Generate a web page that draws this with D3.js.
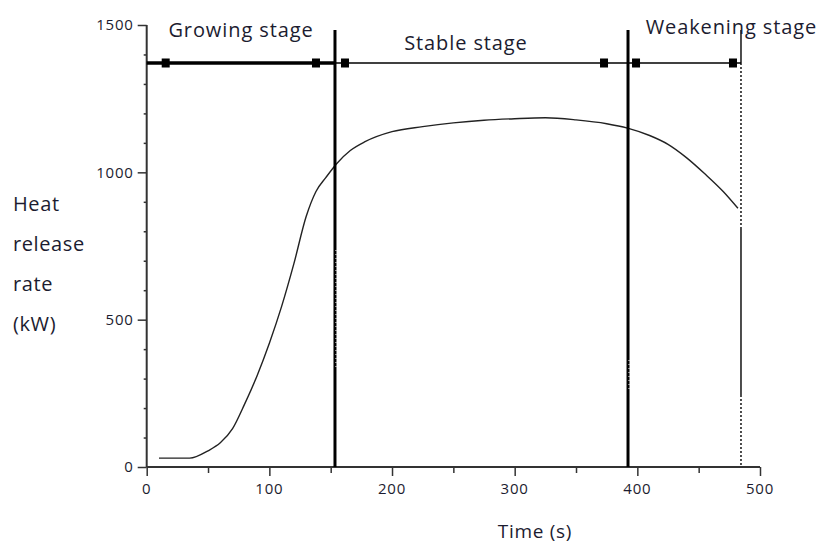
<!DOCTYPE html>
<html>
<head>
<meta charset="utf-8">
<script src="https://cdn.jsdelivr.net/npm/d3@7"></script>
<style>
    body { margin: 0; background: #fff; }
    svg text { font-family: "Open Sans", "Noto Sans", sans-serif; }
</style>
</head>
<body>
<svg id="chart" width="824" height="547"></svg>
<script>
// heat release rate curve
var times = [10, 35, 50, 60, 70, 80, 90, 100, 110, 120, 130, 138, 146, 155, 166, 178, 200, 225, 250, 275, 300, 325, 350, 375, 392, 410, 425, 440, 455, 470, 482];
var hrr = [30, 30, 55, 82, 130, 215, 310, 420, 545, 690, 850, 935, 982, 1030, 1074, 1104, 1138, 1155, 1168, 1177, 1182, 1185, 1178, 1165, 1150, 1125, 1095, 1050, 995, 935, 878];

// stage boundaries (s)
var stageNames = ["Growing stage", "Stable stage", "Weakening stage"];
var stageStart = [0, 153.5, 392.4];
var stageEnd = [153.5, 392.4, 484.5];

var xTicks = [0, 100, 200, 300, 400, 500];
var yTicks = [0, 500, 1000, 1500];
var yLabelLines = ["Heat", "release", "rate", "(kW)"];

var svg = d3.select("#chart");

var x = d3.scaleLinear().domain([0, 500]).range([146.7, 760]);
var y = d3.scaleLinear().domain([0, 1500]).range([467, 25]);

var ink = "#1c1c30";

// ---- axes
var xAxis = svg.append("g").attr("transform", "translate(0," + y(0) + ")");
xAxis.call(d3.axisBottom(x).tickValues(d3.range(0, 501, 50)).tickSize(6).tickFormat(""));
xAxis.selectAll(".tick line").attr("y2", function (d) { return d % 100 === 0 ? 9 : 6; });
xAxis.call(function (g) {
    g.select(".domain").attr("d", "M" + x(0) + ",0H" + x(500)).attr("stroke", "#333").attr("stroke-width", 2);
    g.selectAll(".tick line").attr("stroke", "#333").attr("stroke-width", 1.5);
});
xAxis.selectAll(".xl")
    .data(xTicks)
    .enter()
    .append("text")
    .attr("x", function (d) { return x(d); })
    .attr("y", 27)
    .attr("text-anchor", "middle")
    .attr("font-size", 15)
    .attr("letter-spacing", 0.8)
    .attr("fill", ink)
    .text(function (d) { return d; });

var yAxis = svg.append("g").attr("transform", "translate(" + x(0) + ",0)");
yAxis.call(d3.axisLeft(y).tickValues(d3.range(0, 1501, 100)).tickFormat(""));
yAxis.selectAll(".tick line").attr("x2", function (d) { return d % 500 === 0 ? -9 : -3; });
yAxis.call(function (g) {
    g.select(".domain").attr("d", "M0," + y(0) + "V" + y(1500)).attr("stroke", "#333").attr("stroke-width", 2);
    g.selectAll(".tick line").attr("stroke", "#333").attr("stroke-width", 1.5);
});
yAxis.selectAll(".yl")
    .data(yTicks)
    .enter()
    .append("text")
    .attr("x", -13)
    .attr("y", function (d) { return y(d); })
    .attr("dy", "0.36em")
    .attr("text-anchor", "end")
    .attr("font-size", 15)
    .attr("letter-spacing", 0.8)
    .attr("fill", ink)
    .text(function (d) { return d; });

// ---- axis titles
svg.append("g")
    .selectAll("text")
    .data(yLabelLines)
    .enter()
    .append("text")
    .attr("x", 13)
    .attr("y", function (d, i) { return 211 + i * 40; })
    .attr("font-size", 20)
    .attr("letter-spacing", 0.6)
    .attr("fill", ink)
    .text(function (d) { return d; });

svg.append("text")
    .attr("x", 535)
    .attr("y", 538)
    .attr("text-anchor", "middle")
    .attr("font-size", 19)
    .attr("letter-spacing", 0.7)
    .attr("fill", ink)
    .text("Time (s)");

// ---- curve
var line = d3.line()
    .x(function (d) { return x(d[0]); })
    .y(function (d) { return y(d[1]); })
    .curve(d3.curveMonotoneX);

svg.append("path")
    .attr("d", line(d3.zip(times, hrr)))
    .attr("fill", "none")
    .attr("stroke", "#222")
    .attr("stroke-width", 1.4);

// ---- stage boundaries
var lineTop = 30;
svg.append("g")
    .selectAll("line")
    .data(stageEnd.slice(0, 2))
    .enter()
    .append("line")
    .attr("x1", function (d) { return x(d); })
    .attr("x2", function (d) { return x(d); })
    .attr("y1", lineTop)
    .attr("y2", y(0))
    .attr("stroke", "#000")
    .attr("stroke-width", 3);

// little white breaks seen on the thick lines
var breaks = [[250, 368], [360, 390]];
svg.append("g")
    .selectAll("line")
    .data(stageEnd.slice(0, 2))
    .enter()
    .append("line")
    .attr("x1", function (d) { return x(d) + 1; })
    .attr("x2", function (d) { return x(d) + 1; })
    .attr("y1", function (d, i) { return breaks[i][0]; })
    .attr("y2", function (d, i) { return breaks[i][1]; })
    .attr("stroke", "#fff")
    .attr("stroke-width", 1)
    .attr("stroke-dasharray", "1,3");

// last boundary: partly dotted
var xe = x(stageEnd[2]);
var segs = [[lineTop, 63, false], [63, 227, true], [227, 395, false], [395, y(0), true]];
svg.append("g")
    .selectAll("line")
    .data(segs)
    .enter()
    .append("line")
    .attr("x1", xe)
    .attr("x2", xe)
    .attr("y1", function (d) { return d[0]; })
    .attr("y2", function (d) { return d[1]; })
    .attr("stroke", "#222")
    .attr("stroke-width", 1.6)
    .attr("stroke-dasharray", function (d) { return d[2] ? "2,2" : null; });

// ---- dimension arrows
var arrowY = 63;
var arrowW = [3.5, 1.6, 1.6];
var inset = [[15, 15], [6, 20], [4, 4]];
var arrows = svg.append("g");
stageNames.forEach(function (name, i) {
    var a = x(stageStart[i]), b = x(stageEnd[i]);
    arrows.append("line")
        .attr("x1", a).attr("x2", b)
        .attr("y1", arrowY).attr("y2", arrowY)
        .attr("stroke", "#000")
        .attr("stroke-width", arrowW[i]);
    arrows.append("rect")
        .attr("x", a + inset[i][0]).attr("y", arrowY - 4.5)
        .attr("width", 8).attr("height", 9)
        .attr("fill", "#000");
    arrows.append("rect")
        .attr("x", b - inset[i][1] - 8).attr("y", arrowY - 4.5)
        .attr("width", 8).attr("height", 9)
        .attr("fill", "#000");
});

// ---- stage labels
var labelX = [76.9, 260.3, 476.7];
var labelY = [37, 50, 34];
svg.append("g")
    .selectAll("text")
    .data(stageNames)
    .enter()
    .append("text")
    .attr("x", function (d, i) { return x(labelX[i]); })
    .attr("y", function (d, i) { return labelY[i]; })
    .attr("text-anchor", "middle")
    .attr("font-size", 20)
    .attr("letter-spacing", 0.9)
    .attr("fill", ink)
    .text(function (d) { return d; });
</script>
</body>
</html>
